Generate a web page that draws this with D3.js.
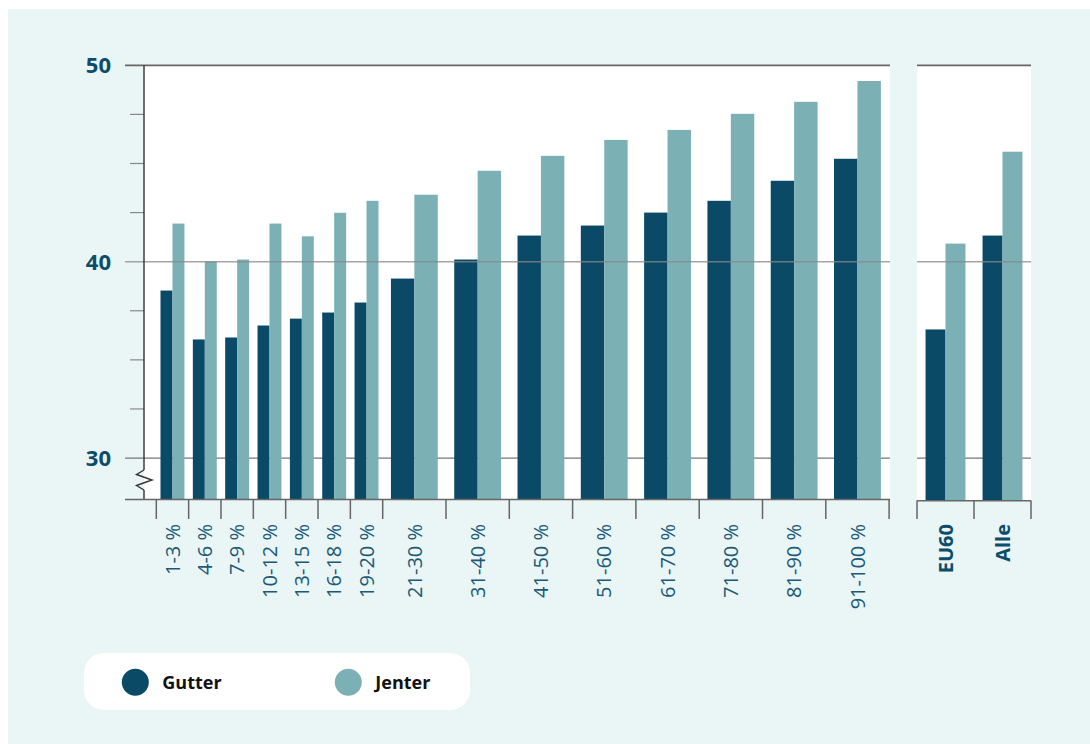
<!DOCTYPE html>
<html><head><meta charset="utf-8">
<script src="https://cdn.jsdelivr.net/npm/d3@7"></script>
<style>
html,body{margin:0;padding:0;background:#fff;}
svg{display:block;font-family:"Open Sans","Noto Sans",sans-serif;}
</style></head>
<body>
<svg id="chart" width="1090" height="744"></svg>
<script>
// ---- data ----
const narrowCats = ["1-3 %","4-6 %","7-9 %","10-12 %","13-15 %","16-18 %","19-20 %"];
const wideCats = ["21-30 %","31-40 %","41-50 %","51-60 %","61-70 %","71-80 %","81-90 %","91-100 %"];
const categories = narrowCats.concat(wideCats);
const gutter = [38.53,36.04,36.14,36.75,37.10,37.41,37.92,39.14,40.11,41.33,41.84,42.50,43.10,44.12,45.24];
const jenter = [41.94,40.02,40.11,41.94,41.29,42.49,43.10,43.41,44.63,45.39,46.20,46.71,47.53,48.14,49.20];
const summaryCats = ["EU60","Alle"];
const summaryGutter = [36.55,41.33];
const summaryJenter = [40.92,45.60];
const majorTicks = [30,40,50];
const minorTicks = [32.5,35,37.5,42.5,45,47.5];
const seriesNames = ["Gutter","Jenter"];

(function(){
const C_G = "#0a4a67", C_J = "#7bb0b5", BG = "#eaf5f5";
const svg = d3.select("#chart");
svg.append("rect").attr("x",8).attr("y",9).attr("width",1082).attr("height",735).attr("fill",BG);

const yTop = 65.3, yBot = 499.5;
const y = d3.scaleLinear().domain([27.89,50]).range([yBot, yTop]);

const xN = d3.scaleBand().domain(narrowCats).range([156.3,382.7]);
const xW = d3.scaleBand().domain(wideCats).range([382.7,889.1]);
const xS = d3.scaleBand().domain(summaryCats).range([917,1031]);
const bandX = c => narrowCats.includes(c) ? xN(c) : xW(c);
const bandW = c => narrowCats.includes(c) ? xN.bandwidth() : xW.bandwidth();

// panels
const L0 = 144, L1 = 890, R0 = 917, R1 = 1031;
svg.append("rect").attr("x",L0).attr("y",yTop).attr("width",L1-L0).attr("height",yBot-yTop).attr("fill","#fff");
svg.append("rect").attr("x",R0).attr("y",yTop).attr("width",R1-R0).attr("height",yBot-yTop+1).attr("fill","#fff");

// gridline at 30 behind bars
const grid = svg.append("g");
[30].forEach(t=>{
  grid.append("line").attr("x1",125).attr("x2",L1).attr("y1",y(t)).attr("y2",y(t)).attr("stroke","#777").attr("stroke-width",1.3);
  grid.append("line").attr("x1",R0).attr("x2",R1).attr("y1",y(t)).attr("y2",y(t)).attr("stroke","#777").attr("stroke-width",1.3);
});

// bars
const sub = d3.scaleBand().domain(seriesNames).paddingOuter(0);
const data = categories.map((c,i)=>({c, v:[gutter[i], jenter[i]]}));
const gBars = svg.append("g");
data.forEach(d=>{
  const w = bandW(d.c), gw = w*0.74, x0 = bandX(d.c) + (w-gw)/2;
  sub.range([x0, x0+gw]);
  seriesNames.forEach((s,k)=>{
    gBars.append("rect").attr("x",sub(s)).attr("width",sub.bandwidth())
      .attr("y",y(d.v[k])).attr("height",yBot-y(d.v[k]))
      .attr("fill",k===0?C_G:C_J);
  });
});
summaryCats.forEach((c,i)=>{
  const w = xS.bandwidth(), gw = w*0.70, x0 = xS(c) + (w-gw)/2;
  sub.range([x0, x0+gw]);
  const vals=[summaryGutter[i], summaryJenter[i]];
  seriesNames.forEach((s,k)=>{
    gBars.append("rect").attr("x",sub(s)).attr("width",sub.bandwidth())
      .attr("y",y(vals[k])).attr("height",yBot+1-y(vals[k]))
      .attr("fill",k===0?C_G:C_J);
  });
});

// gridline at 40 (drawn over bars)
[40].forEach(t=>{
  svg.append("line").attr("x1",125).attr("x2",L1).attr("y1",y(t)).attr("y2",y(t)).attr("stroke","#888").attr("stroke-opacity",0.75).attr("stroke-width",1.5);
  svg.append("line").attr("x1",R0).attr("x2",R1).attr("y1",y(t)).attr("y2",y(t)).attr("stroke","#888").attr("stroke-opacity",0.75).attr("stroke-width",1.5);
});
// top line at 50
svg.append("line").attr("x1",125).attr("x2",L1).attr("y1",y(50)).attr("y2",y(50)).attr("stroke","#666").attr("stroke-width",1.8);
svg.append("line").attr("x1",R0).attr("x2",R1).attr("y1",y(50)).attr("y2",y(50)).attr("stroke","#666").attr("stroke-width",1.8);

// minor ticks
minorTicks.forEach(t=>{
  svg.append("line").attr("x1",130).attr("x2",L0).attr("y1",y(t)).attr("y2",y(t)).attr("stroke","#888").attr("stroke-width",1.2);
});

// y axis with break
const yb1 = 470, yb2 = 490;
svg.append("line").attr("x1",L0).attr("x2",L0).attr("y1",yTop).attr("y2",yb1).attr("stroke","#333").attr("stroke-width",1.4);
svg.append("line").attr("x1",L0).attr("x2",L0).attr("y1",yb2).attr("y2",yBot).attr("stroke","#333").attr("stroke-width",1.4);
svg.append("path").attr("d",`M${L0},${yb1} L136.5,474.5 L152,480 L136.5,485.5 L${L0},${yb2}`)
  .attr("fill","none").attr("stroke","#333").attr("stroke-width",1.4);

// y labels
majorTicks.forEach(t=>{
  svg.append("text").attr("x",111).attr("y",y(t)).attr("dy","0.36em").attr("text-anchor","end")
    .attr("font-size",22).attr("font-weight",700).attr("fill","#0c4d6c").text(t);
});

// x axes
svg.append("line").attr("x1",125).attr("x2",L1).attr("y1",yBot).attr("y2",yBot).attr("stroke","#666").attr("stroke-width",1.6);
svg.append("line").attr("x1",R0).attr("x2",R1).attr("y1",yBot+1.2).attr("y2",yBot+1.2).attr("stroke","#666").attr("stroke-width",1.6);
const tickXs = categories.map(c=>bandX(c)).concat([xW.range()[1]]);
tickXs.forEach(x=>{
  svg.append("line").attr("x1",x).attr("x2",x).attr("y1",yBot).attr("y2",519).attr("stroke","#666").attr("stroke-width",1.5);
});
summaryCats.map(c=>xS(c)).concat([xS.range()[1]]).forEach(x=>{
  svg.append("line").attr("x1",x).attr("x2",x).attr("y1",yBot+1).attr("y2",519).attr("stroke","#666").attr("stroke-width",1.5);
});

// x labels
categories.forEach(c=>{
  const cx = bandX(c)+bandW(c)/2;
  svg.append("text").attr("transform",`translate(${cx},524) rotate(-90)`).attr("text-anchor","end")
    .attr("dy","0.36em").attr("font-size",20).attr("fill","#1a5a78").text(c);
});
summaryCats.forEach(c=>{
  const cx = xS(c)+xS.bandwidth()/2;
  svg.append("text").attr("transform",`translate(${cx},524) rotate(-90)`).attr("text-anchor","end")
    .attr("dy","0.36em").attr("font-size",20).attr("font-weight",700).attr("fill","#0c4d6c").text(c);
});

// legend
const lg = svg.append("g");
lg.append("rect").attr("x",84).attr("y",653).attr("width",386).attr("height",57).attr("rx",20).attr("fill","#fff");
const legX = [135.3, 348.3];
seriesNames.forEach((s,k)=>{
  lg.append("circle").attr("cx",legX[k]).attr("cy",682.3).attr("r",13.5).attr("fill",k===0?C_G:C_J);
  lg.append("text").attr("x",legX[k]+27).attr("y",682.3).attr("dy","0.36em").attr("font-size",18)
    .attr("font-weight",700).attr("fill","#111").text(s);
});
})();
</script>
</body></html>
